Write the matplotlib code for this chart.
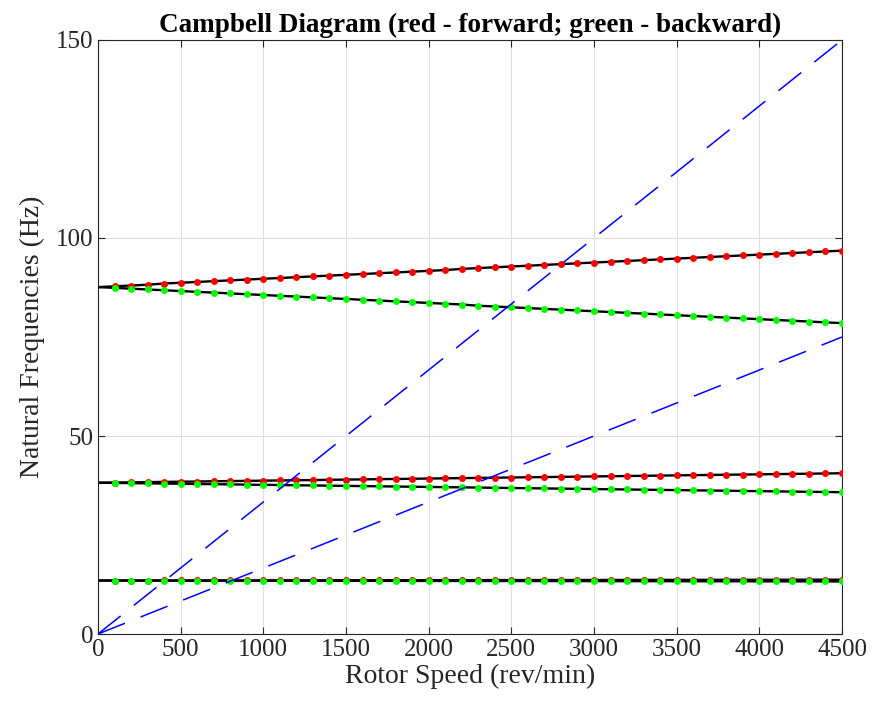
import matplotlib.pyplot as plt

plt.rcParams['font.family'] = ['Liberation Serif', 'DejaVu Serif']

# rotor speed grid (rev/min)
speed = [0, 100, 200, 300, 400, 500, 600, 700, 800, 900,
         1000, 1100, 1200, 1300, 1400, 1500, 1600, 1700, 1800, 1900,
         2000, 2100, 2200, 2300, 2400, 2500, 2600, 2700, 2800, 2900,
         3000, 3100, 3200, 3300, 3400, 3500, 3600, 3700, 3800, 3900,
         4000, 4100, 4200, 4300, 4400, 4500]

# natural frequencies (Hz), forward and backward whirl
mode1_fw = [13.50, 13.50, 13.51, 13.51, 13.52, 13.52, 13.53, 13.53, 13.54, 13.54,
            13.55, 13.55, 13.56, 13.56, 13.57, 13.57, 13.58, 13.58, 13.59, 13.59,
            13.60, 13.60, 13.61, 13.61, 13.62, 13.62, 13.63, 13.63, 13.64, 13.64,
            13.65, 13.65, 13.66, 13.66, 13.67, 13.67, 13.68, 13.68, 13.69, 13.69,
            13.70, 13.70, 13.71, 13.71, 13.72, 13.72]
mode1_bw = [13.50, 13.50, 13.49, 13.49, 13.48, 13.48, 13.47, 13.47, 13.46, 13.46,
            13.45, 13.45, 13.44, 13.44, 13.43, 13.43, 13.42, 13.42, 13.41, 13.41,
            13.40, 13.40, 13.39, 13.39, 13.38, 13.38, 13.37, 13.37, 13.36, 13.36,
            13.35, 13.35, 13.34, 13.34, 13.33, 13.33, 13.32, 13.32, 13.31, 13.31,
            13.30, 13.30, 13.29, 13.29, 13.28, 13.28]
mode2_fw = [38.20, 38.25, 38.30, 38.36, 38.41, 38.46, 38.51, 38.57, 38.62, 38.67,
            38.72, 38.78, 38.83, 38.88, 38.94, 38.99, 39.04, 39.10, 39.15, 39.20,
            39.26, 39.31, 39.36, 39.42, 39.47, 39.52, 39.58, 39.63, 39.68, 39.74,
            39.79, 39.84, 39.90, 39.95, 40.00, 40.06, 40.11, 40.16, 40.22, 40.27,
            40.32, 40.38, 40.43, 40.48, 40.54, 40.59]
mode2_bw = [38.20, 38.15, 38.10, 38.04, 37.99, 37.94, 37.88, 37.83, 37.78, 37.72,
            37.67, 37.62, 37.56, 37.51, 37.46, 37.40, 37.35, 37.30, 37.24, 37.19,
            37.14, 37.08, 37.03, 36.98, 36.92, 36.87, 36.82, 36.76, 36.71, 36.66,
            36.60, 36.55, 36.50, 36.44, 36.39, 36.34, 36.28, 36.23, 36.18, 36.12,
            36.07, 36.02, 35.96, 35.91, 35.86, 35.80]
mode3_fw = [87.6, 87.8, 88.0, 88.2, 88.5, 88.7, 88.9, 89.1, 89.3, 89.5,
            89.7, 89.9, 90.1, 90.3, 90.5, 90.7, 90.9, 91.1, 91.3, 91.5,
            91.7, 91.9, 92.2, 92.4, 92.6, 92.8, 93.0, 93.2, 93.4, 93.6,
            93.8, 94.0, 94.2, 94.4, 94.6, 94.8, 95.0, 95.2, 95.4, 95.6,
            95.8, 96.0, 96.2, 96.4, 96.6, 96.8]
mode3_bw = [87.6, 87.4, 87.2, 87.0, 86.8, 86.6, 86.4, 86.2, 86.0, 85.8,
            85.6, 85.4, 85.2, 85.0, 84.8, 84.6, 84.4, 84.2, 84.0, 83.8,
            83.6, 83.4, 83.2, 82.9, 82.7, 82.5, 82.3, 82.1, 81.9, 81.7,
            81.5, 81.3, 81.1, 80.9, 80.7, 80.5, 80.3, 80.1, 79.9, 79.7,
            79.5, 79.3, 79.1, 78.9, 78.7, 78.5]

# excitation lines (1x and 2x running speed)
exc_speed = [0, 4500]
exc_1x = [0, 75]
exc_2x = [0, 150]

fig = plt.figure(figsize=(8.74, 7.19), dpi=100)
ax = fig.add_axes([0.1121, 0.1182, 0.8513, 0.8262])

forward = [mode1_fw, mode2_fw, mode3_fw]
backward = [mode1_bw, mode2_bw, mode3_bw]

for f in forward + backward:
    ax.plot(speed, f, color='black', linewidth=1.7, zorder=2)
for f in forward:
    ax.plot(speed[1:], f[1:], linestyle='none', marker='o', markersize=5,
            color='#ff0000', markeredgewidth=0, zorder=3)
for f in backward:
    ax.plot(speed[1:], f[1:], linestyle='none', marker='o', markersize=5,
            color='#00ff00', markeredgewidth=0, zorder=4)

ax.plot(exc_speed, exc_1x, color='#0000ff', linestyle=(0, (19, 11)), linewidth=1.1, zorder=5)
ax.plot(exc_speed, exc_2x, color='#0000ff', linestyle=(0, (19, 11)), linewidth=1.1, zorder=5)

ax.set_xlim(0, 4500)
ax.set_ylim(0, 150)
ax.set_xticks(range(0, 4501, 500))
ax.set_yticks([0, 50, 100, 150])
ax.grid(True, color='#dfdfdf', linewidth=0.8)
ax.set_axisbelow(True)
ax.tick_params(direction='in', top=True, right=True, labelsize=18, length=5,
               color='#262626', labelcolor='#262626')
for s in ax.spines.values():
    s.set_color('#262626')
    s.set_linewidth(0.8)

ax.set_xlabel('Rotor Speed (rev/min)', fontsize=20, color='#262626', labelpad=2)
ax.set_ylabel('Natural Frequencies (Hz)', fontsize=20, color='#262626', labelpad=8)
ax.set_title('Campbell Diagram (red - forward; green - backward)', fontsize=19.5,
             fontweight='bold', pad=6)

fig.savefig('out.png', dpi=100)
